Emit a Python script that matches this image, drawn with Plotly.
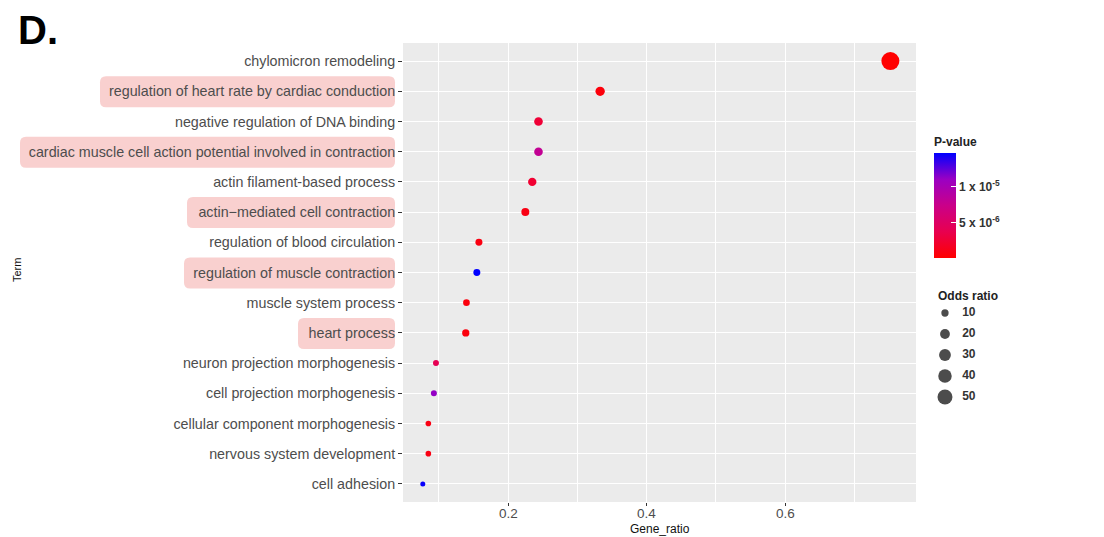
import math
import plotly.graph_objects as go

# ---------------- data (top to bottom as displayed) ----------------
terms = [
    "chylomicron remodeling",
    "regulation of heart rate by cardiac conduction",
    "negative regulation of DNA binding",
    "cardiac muscle cell action potential involved in contraction",
    "actin filament-based process",
    "actin\u2212mediated cell contraction",
    "regulation of blood circulation",
    "regulation of muscle contraction",
    "muscle system process",
    "heart process",
    "neuron projection morphogenesis",
    "cell projection morphogenesis",
    "cellular component morphogenesis",
    "nervous system development",
    "cell adhesion",
]
gene_ratio = [0.752, 0.333, 0.244, 0.244, 0.235, 0.225, 0.158, 0.155,
              0.140, 0.139, 0.096, 0.093, 0.085, 0.085, 0.077]
p_value = [1.0e-7, 6.0e-7, 2.6e-6, 8.0e-6, 2.4e-6, 1.0e-6, 9.0e-7, 1.47e-5,
           7.0e-7, 7.0e-7, 4.0e-6, 1.12e-5, 1.0e-6, 1.0e-6, 1.45e-5]
odds_ratio = [73, 18, 15, 15, 14, 12.5, 9, 9, 8, 10, 6, 6, 5, 5, 3.5]

highlighted = [
    "regulation of heart rate by cardiac conduction",
    "cardiac muscle cell action potential involved in contraction",
    "actin\u2212mediated cell contraction",
    "regulation of muscle contraction",
    "heart process",
]
highlight_left_px = [100, 20, 187, 184, 298]

x_ticks = [0.2, 0.4, 0.6]
pval_ticks = [5e-6, 1e-5]
pval_ticktext = ["<b>5 x 10<sup>-6</sup></b>", "<b>1 x 10<sup>-5</sup></b>"]
size_legend_values = [10, 20, 30, 40, 50]

# ---------------- styling helpers ----------------
# the page body has an 8px margin, so the figure is offset by 8px
OFF = 8
W, H = 1104 - OFF, 537 - OFF
FONT = "Liberation Sans, Arial, sans-serif"

PANEL_L, PANEL_R, PANEL_T, PANEL_B = 403, 916, 43, 502
Y_RANGE = [-0.6, len(terms) - 0.4]


def px_x(p):
    return (p - OFF) / W


def px_y(p):
    return 1 - (p - OFF) / H


def cat_to_px(idx):
    span = Y_RANGE[1] - Y_RANGE[0]
    return PANEL_B - (idx - Y_RANGE[0]) / span * (PANEL_B - PANEL_T)


def dot_size(v):
    # area-based size scale (diameter in px)
    return math.sqrt(10 + 4.3 * v)


def rounded_rect_path(l, r, t, b, rad=6):
    X = px_x
    Y = px_y
    return (f"M {X(l + rad)},{Y(t)} L {X(r - rad)},{Y(t)} "
            f"Q {X(r)},{Y(t)} {X(r)},{Y(t + rad)} "
            f"L {X(r)},{Y(b - rad)} Q {X(r)},{Y(b)} {X(r - rad)},{Y(b)} "
            f"L {X(l + rad)},{Y(b)} Q {X(l)},{Y(b)} {X(l)},{Y(b - rad)} "
            f"L {X(l)},{Y(t + rad)} Q {X(l)},{Y(t)} {X(l + rad)},{Y(t)} Z")


colorscale = [
    [0.0, "rgb(255,0,0)"],
    [0.25, "rgb(232,0,79)"],
    [0.5, "rgb(202,0,137)"],
    [0.75, "rgb(154,0,195)"],
    [1.0, "rgb(0,0,255)"],
]

cat_order = list(reversed(terms))

fig = go.Figure()

fig.add_trace(go.Scatter(
    x=gene_ratio,
    y=terms,
    mode="markers",
    marker=dict(
        size=[dot_size(v) for v in odds_ratio],
        color=p_value,
        colorscale=colorscale,
        cmin=min(p_value),
        cmax=max(p_value),
        line=dict(width=0),
        opacity=1,
        colorbar=dict(
            title=dict(text="<b>P-value</b>", side="top",
                       font=dict(size=12, color="#222", family=FONT)),
            tickvals=pval_ticks,
            ticktext=pval_ticktext,
            tickfont=dict(size=12, color="#333", family=FONT),
            ticks="inside",
            tickcolor="white",
            ticklen=5,
            thickness=22,
            lenmode="pixels",
            len=124,
            xref="container",
            yref="container",
            x=px_x(934),
            xanchor="left",
            y=px_y(258),
            yanchor="bottom",
            xpad=0,
            ypad=0,
            outlinewidth=0,
        ),
    ),
    showlegend=False,
    hoverinfo="x+y",
))

# size legend (drawn on an auxiliary axis)
fig.add_trace(go.Scatter(
    x=[2.14] * len(size_legend_values),
    y=size_legend_values,
    mode="markers",
    marker=dict(size=[dot_size(v) for v in size_legend_values], color="#000000",
                line=dict(width=0)),
    xaxis="x2", yaxis="y2", showlegend=False, hoverinfo="skip",
))
fig.add_trace(go.Scatter(
    x=[4.6] * len(size_legend_values),
    y=size_legend_values,
    mode="text",
    text=["<b>%d</b>" % v for v in size_legend_values],
    textposition="middle right",
    textfont=dict(size=12, color="#333", family=FONT),
    xaxis="x2", yaxis="y2", showlegend=False, hoverinfo="skip",
))

shapes = [dict(type="rect", xref="x domain", yref="y domain", x0=0, x1=1,
               y0=0, y1=1, fillcolor="#EBEBEB", line=dict(width=0),
               layer="below")]
for term, left in zip(highlighted, highlight_left_px):
    idx = cat_order.index(term)
    cy = cat_to_px(idx)
    shapes.append(dict(
        type="path", xref="paper", yref="paper",
        path=rounded_rect_path(left, 395, cy - 15, cy + 16),
        fillcolor="rgb(249,208,207)", line=dict(width=0),
        layer="below",
    ))

# x tick labels placed just under the panel (ggplot spacing)
tick_label_annotations = [
    dict(text=str(v), x=v, xref="x", y=px_y(513), yref="paper",
         xanchor="center", yanchor="middle", showarrow=False,
         font=dict(size=13.5, color="#4D4D4D", family=FONT))
    for v in x_ticks
]

fig.update_layout(
    width=W, height=H,
    margin=dict(l=0, r=0, t=0, b=0, autoexpand=False),
    paper_bgcolor="white",
    plot_bgcolor="white",
    font=dict(family=FONT, color="#4D4D4D"),
    xaxis=dict(
        domain=[px_x(PANEL_L), px_x(PANEL_R)],
        range=[0.0484, 0.789],
        tickvals=x_ticks,
        showticklabels=False,
        ticks="outside", ticklen=3, tickcolor="#333", tickwidth=1,
        showgrid=True, gridcolor="white", gridwidth=1.3,
        minor=dict(tickvals=[0.1, 0.3, 0.5, 0.7], showgrid=True,
                   gridcolor="white", gridwidth=0.6, ticks=""),
        zeroline=False, showline=False,
        automargin=False,
    ),
    yaxis=dict(
        domain=[px_y(PANEL_B), px_y(PANEL_T)],
        type="category",
        categoryorder="array",
        categoryarray=cat_order,
        range=Y_RANGE,
        tickfont=dict(size=14.3, color="#4D4D4D"),
        ticks="outside", ticklen=4, tickcolor="#333", tickwidth=1,
        showgrid=True, gridcolor="white", gridwidth=1.3,
        zeroline=False, showline=False,
        automargin=False,
    ),
    xaxis2=dict(domain=[px_x(930), px_x(1000)], range=[0, 10],
                visible=False, fixedrange=True),
    yaxis2=dict(domain=[px_y(407.5), px_y(302.5)], range=[55, 5],
                visible=False, fixedrange=True, anchor="x2"),
    shapes=shapes,
    annotations=tick_label_annotations + [
        dict(text="<b>D.</b>", x=px_x(16), y=px_y(30), xref="paper", yref="paper",
             xanchor="left", yanchor="middle", showarrow=False,
             font=dict(size=40, color="black", family=FONT)),
        dict(text="Term", x=px_x(17), y=px_y(270), xref="paper", yref="paper",
             textangle=-90, showarrow=False, xanchor="center", yanchor="middle",
             font=dict(size=11, color="#111", family=FONT)),
        dict(text="Gene_ratio", x=px_x(660), y=px_y(529), xref="paper",
             yref="paper", xanchor="center", yanchor="middle", showarrow=False,
             font=dict(size=12, color="#111", family=FONT)),
        dict(text="<b>Odds ratio</b>", x=px_x(936), y=px_y(296), xref="paper",
             yref="paper", xanchor="left", yanchor="middle", showarrow=False,
             font=dict(size=12, color="#222", family=FONT)),
    ],
)

fig.write_html("out.html")
